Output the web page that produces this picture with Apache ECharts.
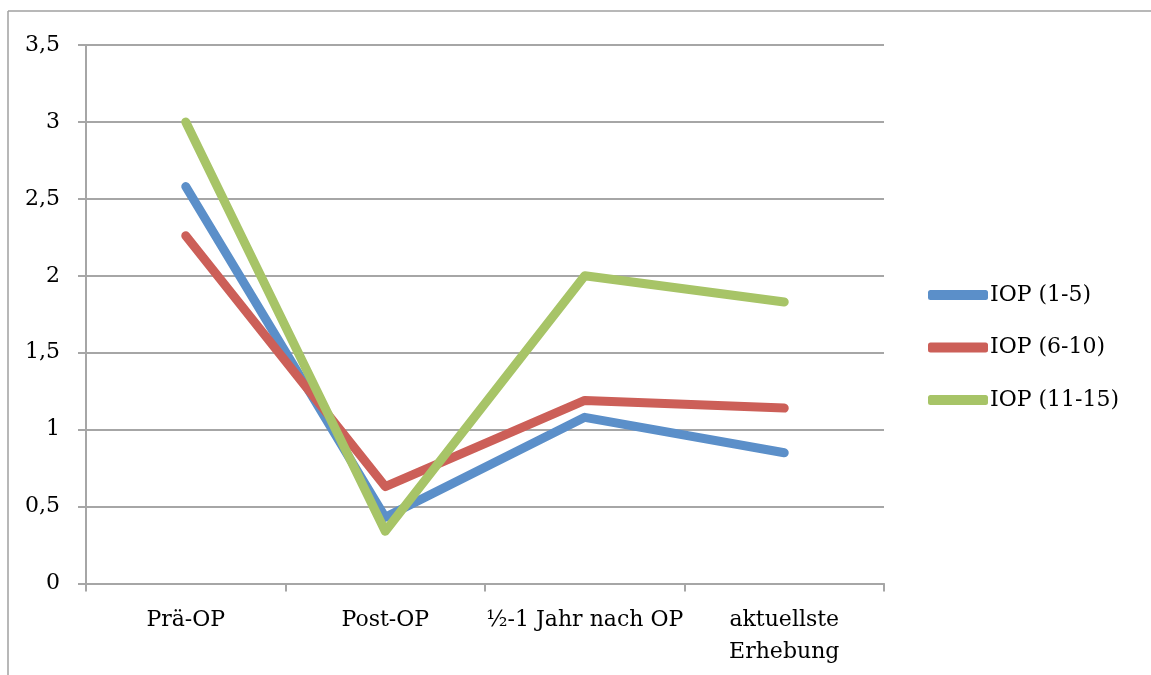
<!DOCTYPE html>
<html>
<head>
<meta charset="utf-8">
<style>
  html, body { margin: 0; padding: 0; background: #ffffff; overflow: hidden; }
  #chart { width: 1151px; height: 675px; }
</style>
<script src="https://cdn.jsdelivr.net/npm/echarts@6/dist/echarts.min.js"></script>
</head>
<body>
<div id="chart"></div>
<script>
// Zeitpunkte der Erhebung
const categories = ['Prä-OP', 'Post-OP', '½-1 Jahr nach OP', 'aktuellste\nErhebung'];

// Mittelwerte je IOP-Gruppe
const iop1to5 = [2.58, 0.43, 1.08, 0.85];
const iop6to10 = [2.26, 0.63, 1.19, 1.14];
const iop11to15 = [3.0, 0.34, 2.0, 1.83];

const seriesNames = ['IOP (1-5)', 'IOP (6-10)', 'IOP (11-15)'];
const seriesColors = ['#5B8FC9', '#CC5F58', '#A7C467'];

// Achsenwerte der y-Achse
const yMin = 0;
const yMax = 3.5;
const yStep = 0.5;

const FONT = 'DejaVu Serif';
const GRID_COLOR = '#A6A6A6';
const FRAME_COLOR = '#A0A0A0';

const chart = echarts.init(document.getElementById('chart'));

function lineSeries(name, data, color) {
  return {
    name: name,
    type: 'line',
    data: data,
    symbol: 'none',
    showSymbol: false,
    lineStyle: { color: color, width: 9, cap: 'round', join: 'round' },
    itemStyle: { color: color, borderWidth: 0 },
    emphasis: { disabled: true }
  };
}

chart.setOption({
  animation: false,
  backgroundColor: '#ffffff',
  textStyle: { fontFamily: FONT },
  graphic: [
    // Rahmen oben und links
    {
      type: 'line',
      silent: true,
      shape: { x1: 8, y1: 11, x2: 1151, y2: 11 },
      style: { stroke: FRAME_COLOR, lineWidth: 1.5 }
    },
    {
      type: 'line',
      silent: true,
      shape: { x1: 8, y1: 11, x2: 8, y2: 675 },
      style: { stroke: FRAME_COLOR, lineWidth: 1.5 }
    }
  ],
  grid: { left: 86, right: 267, top: 45, bottom: 91.5, containLabel: false },
  legend: {
    orient: 'vertical',
    left: 928,
    top: 284,
    padding: 0,
    itemWidth: 60,
    itemHeight: 10,
    itemGap: 30.5,
    icon: 'roundRect',
    selectedMode: false,
    data: seriesNames,
    itemStyle: { borderWidth: 0 },
    textStyle: { fontFamily: FONT, fontSize: 22, color: '#000000', padding: [0, 0, 0, -3] }
  },
  xAxis: {
    type: 'category',
    data: categories,
    boundaryGap: true,
    axisLine: { show: true, lineStyle: { color: GRID_COLOR, width: 2 } },
    axisTick: { show: true, length: 8, inside: false, lineStyle: { color: GRID_COLOR, width: 2 } },
    axisLabel: {
      interval: 0,
      margin: 21,
      fontFamily: FONT,
      fontSize: 22,
      lineHeight: 32,
      color: '#000000'
    },
    splitLine: { show: false }
  },
  yAxis: {
    type: 'value',
    min: yMin,
    max: yMax,
    interval: yStep,
    axisLine: { show: true, lineStyle: { color: GRID_COLOR, width: 2 } },
    axisTick: { show: true, length: 8, lineStyle: { color: GRID_COLOR, width: 2 } },
    axisLabel: {
      margin: 26,
      fontFamily: FONT,
      fontSize: 22,
      color: '#000000',
      formatter: function (v) { return String(v).replace('.', ','); }
    },
    splitLine: { show: true, lineStyle: { color: GRID_COLOR, width: 2 } }
  },
  series: [
    lineSeries(seriesNames[0], iop1to5, seriesColors[0]),
    lineSeries(seriesNames[1], iop6to10, seriesColors[1]),
    lineSeries(seriesNames[2], iop11to15, seriesColors[2])
  ]
});
</script>
</body>
</html>
